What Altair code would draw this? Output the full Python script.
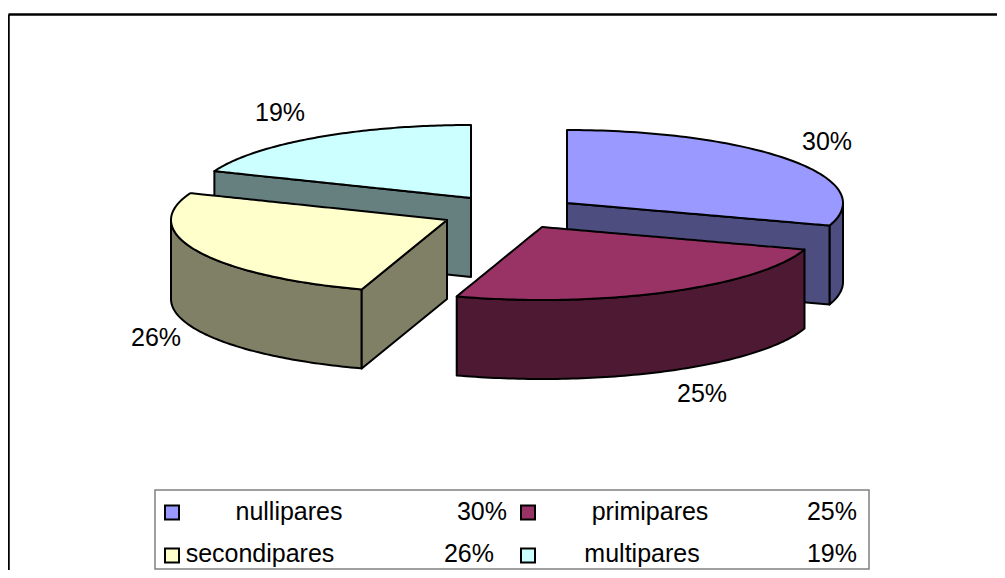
import numpy as np
import altair as alt

names = ["nullipares", "primipares", "secondipares", "multipares"]
shares = [30, 25, 26, 19]
pct_labels = ["30%", "25%", "26%", "19%"]
top_colors = ["#9999FF", "#993366", "#FFFFCC", "#CCFFFF"]
wall_colors = ["#4D4D80", "#4D1933", "#808066", "#668080"]
apex_x = [567, 542, 447, 471]
apex_y = [203, 227, 220, 198]
label_x = [827, 702, 156, 280]
label_y = [150, 402, 346, 121]
legend_swatch_x = [172, 528, 172, 528]
legend_row_y = [512.5, 512.5, 555.5, 555.5]
legend_name_x = [289, 650, 260, 642]
legend_pct_x = [507, 857, 494, 857]
legend_base_y = [520, 520, 562, 562]

RX, RY, DEPTH = 276, 73, 79
X0, X1, Y0, Y1 = 8, 997, 8, 570
FONT = "Liberation Sans"
FS = 25

xs = alt.Scale(domain=[X0, X1], nice=False, zero=False)
ys = alt.Scale(domain=[Y1, Y0], nice=False, zero=False)
xq = lambda f: alt.X(f, type="quantitative", scale=xs, axis=None)
yq = lambda f: alt.Y(f, type="quantitative", scale=ys, axis=None)


def rim(cx, cy, a0, a1, n=90, dy=0):
    t = np.radians(np.linspace(a0, a1, n))
    return list(zip(cx + RX * np.sin(t), cy - RY * np.cos(t) + dy))


def band(poly):
    """Turn a closed outline into x / y / y2 rows for an area mark."""
    pts = np.array(poly, float)
    rows = []
    grid = np.unique(np.round(pts[:, 0], 3))
    nxt = np.roll(pts, -1, axis=0)
    for x in grid:
        hits = []
        for (x1, y1), (x2, y2) in zip(pts, nxt):
            lo, hi = min(x1, x2), max(x1, x2)
            if x < lo - 1e-3 or x > hi + 1e-3:
                continue
            if abs(x2 - x1) < 1e-3:
                hits += [y1, y2]
            else:
                hits.append(y1 + (y2 - y1) * (x - x1) / (x2 - x1))
        rows.append({"x": float(x), "y": float(min(hits)), "y2": float(max(hits))})
    return rows


def face(poly, color):
    return (
        alt.Chart(alt.Data(values=band(poly)))
        .mark_area(fill=color, stroke="black", strokeWidth=2, strokeJoin="round", interpolate="linear")
        .encode(x=xq("x"), y=yq("y"), y2=alt.Y2("y2"))
    )


edges = np.concatenate([[0], np.cumsum(shares)]) * 3.6
layers = []
for i in [3, 0, 2, 1]:
    a0, a1 = edges[i], edges[i + 1]
    cx, cy = apex_x[i], apex_y[i]
    # curved outer wall: only the part of the rim that faces the viewer
    f0, f1 = max(a0, 90), min(a1, 270)
    if f1 > f0:
        upper = rim(cx, cy, f0, f1)
        lower = rim(cx, cy, f1, f0, dy=DEPTH)
        layers.append(face(upper + lower, wall_colors[i]))
    # straight cut wall at the starting edge (seen from the front on the left half)
    # and at the closing edge (seen from the front on the right half)
    for a in (a0, a1):
        s = np.sin(np.radians(a))
        visible = (a == a0 and s < 0) or (a == a1 and s > 0)
        if visible:
            ex, ey = rim(cx, cy, a, a, n=1)[0]
            layers.append(face([(cx, cy), (ex, ey), (ex, ey + DEPTH), (cx, cy + DEPTH)], wall_colors[i]))
    layers.append(face([(cx, cy)] + rim(cx, cy, a0, a1), top_colors[i]))

# data labels
layers.append(
    alt.Chart(alt.Data(values=[{"x": a, "y": b, "t": c} for a, b, c in zip(label_x, label_y, pct_labels)]))
    .mark_text(font=FONT, fontSize=FS, color="black", align="center", baseline="alphabetic")
    .encode(x=xq("x"), y=yq("y"), text="t:N")
)

# chart frame
layers.append(
    alt.Chart(alt.Data(values=[{"x": X0 + 0.5, "x2": X1, "y": 14.5, "y2": 14.5}, {"x": X0 + 0.5, "x2": X0 + 0.5, "y": 14.5, "y2": Y1}]))
    .mark_rule(color="black", strokeWidth=2.5)
    .encode(x=xq("x"), x2=alt.X2("x2"), y=yq("y"), y2=alt.Y2("y2"))
)

# legend box
layers.append(
    alt.Chart(alt.Data(values=[{"x": 155, "x2": 869, "y": 490, "y2": 569}]))
    .mark_rect(fill="white", stroke="#808080", strokeWidth=1.5)
    .encode(x=xq("x"), x2=alt.X2("x2"), y=yq("y"), y2=alt.Y2("y2"))
)
layers.append(
    alt.Chart(alt.Data(values=[{"x": a, "y": b, "c": c} for a, b, c in zip(legend_swatch_x, legend_row_y, top_colors)]))
    .mark_square(size=196, stroke="black", strokeWidth=2, opacity=1)
    .encode(x=xq("x"), y=yq("y"), fill=alt.Fill("c:N", scale=None))
)
layers.append(
    alt.Chart(alt.Data(values=[{"x": a, "y": b, "t": c} for a, b, c in zip(legend_name_x, legend_base_y, names)]))
    .mark_text(font=FONT, fontSize=FS, color="black", align="center", baseline="alphabetic")
    .encode(x=xq("x"), y=yq("y"), text="t:N")
)
layers.append(
    alt.Chart(alt.Data(values=[{"x": a, "y": b, "t": c} for a, b, c in zip(legend_pct_x, legend_base_y, pct_labels)]))
    .mark_text(font=FONT, fontSize=FS, color="black", align="right", baseline="alphabetic")
    .encode(x=xq("x"), y=yq("y"), text="t:N")
)

chart = (
    alt.layer(*layers)
    .properties(width=X1 - X0, height=Y1 - Y0, padding=0, autosize=alt.AutoSizeParams(type="none"), background="white")
    .configure_view(stroke=None)
)
chart.save("out.html", embed_options={"renderer": "svg", "actions": False})
